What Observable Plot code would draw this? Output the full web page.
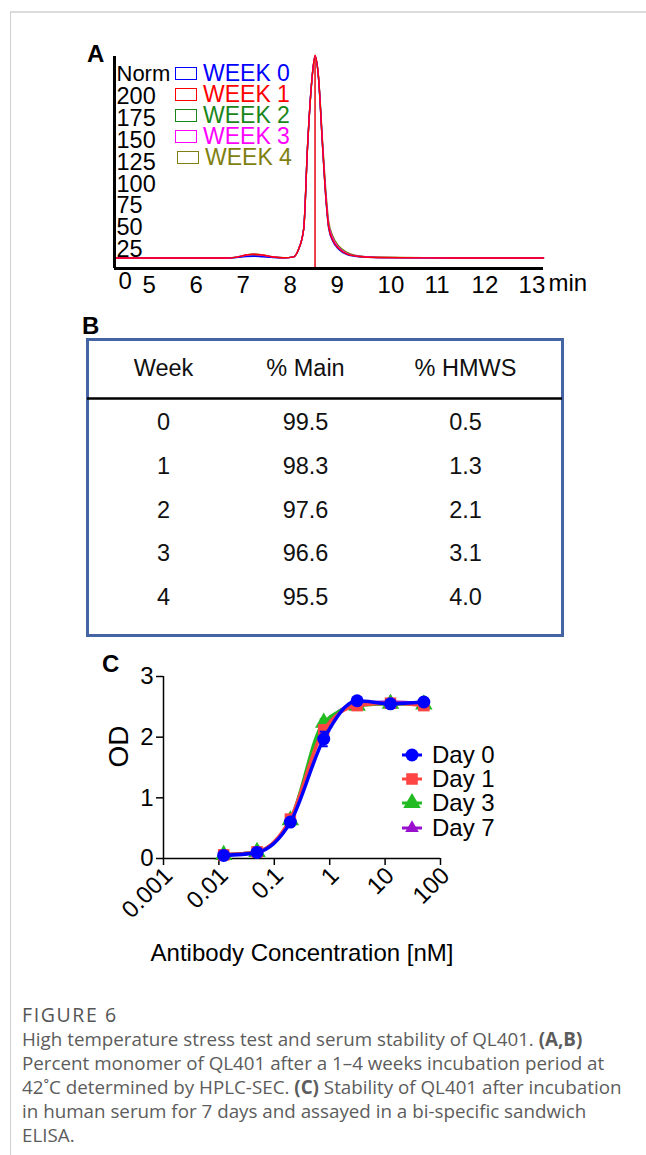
<!DOCTYPE html>
<html><head><meta charset="utf-8">
<script src="https://cdn.jsdelivr.net/npm/d3@7"></script>
<script src="https://cdn.jsdelivr.net/npm/@observablehq/plot@0.6"></script>
<style>
body{margin:0;background:#fff;width:646px;height:1155px;position:relative;overflow:hidden;font-family:"Liberation Sans",Arial,sans-serif;}
.abs{position:absolute;}
#borderTop{left:10px;top:11px;width:636px;height:0;border-top:2px solid #dcdcdc;}
#borderLeft{left:10px;top:12px;width:0;height:1143px;border-left:1px solid #cfcfcf;}
.plabel{font-weight:bold;font-size:24px;color:#000;}
.legA{left:175px;font-size:23px;line-height:22px;display:flex;align-items:center;}
.legA span.box{display:inline-block;width:20px;height:11px;margin-right:6px;}
.legC{left:402px;font-size:24px;display:flex;align-items:center;color:#000;}
#caption{left:22px;top:1003px;font-family:"Open Sans",sans-serif;color:#5c5c5c;font-size:18.8px;line-height:24px;white-space:nowrap;}
#caption .fig{font-size:19.5px;letter-spacing:1.6px;color:#555;margin-bottom:0px;}
</style></head><body>
<div id="borderTop" class="abs"></div>
<div id="borderLeft" class="abs"></div>
<div id="pA" class="abs" style="left:0;top:0"></div>
<div id="pB" class="abs" style="left:0;top:300px"></div>
<div id="pC" class="abs" style="left:0;top:645px"></div>
<div class="abs plabel" style="left:87px;top:40px">A</div>
<div class="abs plabel" style="left:82px;top:312px">B</div>
<div class="abs plabel" style="left:102px;top:650px">C</div>
<div id="legendA"></div>
<div id="legendC"></div>
<div id="caption" class="abs">
<div class="fig">FIGURE 6</div>
<div>High temperature stress test and serum stability of QL401. <b>(A,B)</b><br>Percent monomer of QL401 after a 1–4 weeks incubation period at<br>42˚C determined by HPLC-SEC. <b>(C)</b> Stability of QL401 after incubation<br>in human serum for 7 days and assayed in a bi-specific sandwich<br>ELISA.</div>
</div>
<script>
// ---------- Panel A: SEC chromatograms ----------
const weekNames = ["WEEK 0","WEEK 1","WEEK 2","WEEK 3","WEEK 4"];
const weekColors = ["#0000ff","#ff0000","#1a861a","#ff00ff","#7f7f10"];
const secTime = [4.4, 6.8, 7.0, 7.2, 7.36, 7.55, 7.75, 8.0, 8.2, 8.32, 8.43, 8.51, 8.6, 8.67, 8.74, 8.83, 8.9, 8.96, 9.05, 9.17, 9.35, 9.6, 10.0, 11.0, 12.0, 13.53];
const week0 = [12, 12, 12.5, 13.6, 14.0, 13.4, 12.7, 12.2, 13, 22, 46, 139, 215, 243, 220, 139, 80, 46, 31, 22, 16, 13.5, 12.5, 12.2, 12, 12];
const week1 = [12, 12, 13.0, 15.4, 16.4, 15.4, 13.5, 12.3, 13, 22, 46, 139, 214, 244, 221, 140, 81, 47, 32, 23, 16.5, 13.8, 12.6, 12.2, 12, 12];
const week2 = [12, 12, 12.8, 14.6, 15.2, 14.5, 13.1, 12.3, 13, 22, 46, 139, 214, 243, 221, 141, 83, 49, 33, 24, 17, 14.0, 12.6, 12.2, 12, 12];
const week3 = [12, 12, 13.0, 15.2, 16.0, 15.2, 13.4, 12.3, 13, 22, 46, 139, 214, 243, 221, 142, 84, 50, 34, 24, 17, 14.0, 12.6, 12.2, 12, 12];
const week4 = [12, 12, 13.0, 15.6, 16.6, 15.6, 13.6, 12.4, 13, 22, 46, 138, 213, 242, 222, 146, 89, 54, 37, 26, 18.5, 14.5, 12.8, 12.3, 12, 12];
const peakTime = 8.67;
const secYTicks = [25, 50, 75, 100, 125, 150, 175, 200];
const secXTicks = [5, 6, 7, 8, 9, 10, 11, 12, 13];

const weekSeries = [week0, week1, week2, week3, week4];
const secRows = [];
weekSeries.forEach((vals, w) => vals.forEach((v, i) => secRows.push({week: weekNames[w], t: secTime[i], v})));
const drawOrder = ["WEEK 4","WEEK 2","WEEK 0","WEEK 3","WEEK 1"];

const plotA = Plot.plot({
  width: 646, height: 300,
  marginLeft: 114, marginRight: 103, marginTop: 56, marginBottom: 32,
  x: {domain: [4.404, 13.53], axis: null},
  y: {domain: [0, 242.6], axis: null},
  color: {domain: weekNames, range: weekColors},
  style: {fontFamily: "'Liberation Sans', Arial, sans-serif", color: "#000", background: "transparent", overflow: "visible"},
  marks: [
    ...drawOrder.map(w => Plot.line(secRows.filter(d => d.week === w), {x: "t", y: "v", stroke: "week", strokeWidth: 1.4, curve: "monotone-x"})),
    Plot.ruleX([peakTime], {y1: 0, y2: 241, stroke: "#e8141c", strokeWidth: 1.6}),
    Plot.ruleX([4.404], {stroke: "#000", strokeWidth: 3}),
    Plot.ruleY([0], {stroke: "#000", strokeWidth: 3}),
    Plot.text(secYTicks, {y: d => d, text: d => String(d), frameAnchor: "left", textAnchor: "start", lineAnchor: "middle", dx: 2, dy: 3, fontSize: 23.5, fill: "#000"}),
    Plot.text(["Norm"], {frameAnchor: "top-left", textAnchor: "start", lineAnchor: "middle", dx: 2, dy: 17, fontSize: 22, fill: "#000"}),
    Plot.text(secXTicks, {x: d => d, text: d => String(d), frameAnchor: "bottom", textAnchor: "start", lineAnchor: "middle", dy: 17, fontSize: 24, fill: "#000"}),
    Plot.text(["0"], {frameAnchor: "bottom-left", textAnchor: "start", lineAnchor: "middle", dx: 4, dy: 13, fontSize: 24, fill: "#000"}),
    Plot.text(["min"], {frameAnchor: "bottom-right", textAnchor: "start", lineAnchor: "middle", dx: 5, dy: 15, fontSize: 24, fill: "#000"})
  ]
});
document.getElementById("pA").appendChild(plotA);

const legA = document.getElementById("legendA");
const legATops = [62, 83, 104, 125, 146];
weekNames.forEach((n, i) => {
  const d = document.createElement("div");
  d.className = "abs legA";
  d.style.top = legATops[i] + "px";
  if (i === 4) d.style.left = "177px";
  d.style.color = weekColors[i];
  d.innerHTML = `<span class="box" style="border:1.6px solid ${weekColors[i]}"></span>${n}`;
  legA.appendChild(d);
});

// ---------- Panel B: table ----------
const tableCols = ["Week", "% Main", "% HMWS"];
const weeks = [0, 1, 2, 3, 4];
const pctMain = ["99.5", "98.3", "97.6", "96.6", "95.5"];
const pctHMWS = ["0.5", "1.3", "2.1", "3.1", "4.0"];
const tableRows = weeks.map((w, i) => ({week: w, cells: [String(w), pctMain[i], pctHMWS[i]]}));
const colDx = [0, -9, 0];
const FB = 23.5;

const plotB = Plot.plot({
  width: 646, height: 345,
  marginLeft: 87, marginRight: 84, marginTop: 39, marginBottom: 10,
  x: {type: "point", domain: tableCols, range: [163, 465], padding: 0, axis: null},
  y: {domain: [-1.897, 4.869], reverse: true, axis: null},
  style: {fontFamily: "'Liberation Sans', Arial, sans-serif", color: "#111", background: "transparent", overflow: "visible"},
  marks: [
    Plot.frame({stroke: "#4464a4", strokeWidth: 3}),
    Plot.ruleY([-0.55], {stroke: "#000", strokeWidth: 2.5}),
    ...tableCols.map((c, j) => Plot.text([c], {x: d => d, frameAnchor: "top", lineAnchor: "middle", dy: 29, dx: colDx[j], fontSize: FB, fill: "#111"})),
    ...tableCols.map((c, j) => Plot.text(tableRows, {x: () => c, y: "week", text: d => d.cells[j], dx: colDx[j], fontSize: FB, fill: "#111"}))
  ]
});
document.getElementById("pB").appendChild(plotB);

// ---------- Panel C: ELISA ----------
const dayNames = ["Day 0", "Day 1", "Day 3", "Day 7"];
const dayColors = ["#0000ff", "#ff4444", "#22bb22", "#9911cc"];
const daySymbols = ["circle", "square", "triangle", "triangle2"];
const conc = [0.0122, 0.0488, 0.195, 0.781, 3.125, 12.5, 50];
const day0 = [0.05, 0.10, 0.60, 1.97, 2.60, 2.55, 2.58];
const day1 = [0.06, 0.11, 0.65, 2.12, 2.52, 2.56, 2.52];
const day3 = [0.06, 0.11, 0.63, 2.24, 2.52, 2.55, 2.54];
const day7 = [0.06, 0.11, 0.63, 2.15, 2.55, 2.58, 2.55];
const day0Err = [0.01, 0.01, 0.02, 0.12, 0.02, 0.02, 0.02];
const day1Err = [0.01, 0.01, 0.02, 0.08, 0.02, 0.02, 0.02];
const day3Err = [0.01, 0.01, 0.02, 0.06, 0.02, 0.02, 0.02];
const day7Err = [0.01, 0.01, 0.02, 0.05, 0.02, 0.02, 0.02];
const odTicks = [0, 1, 2, 3];
const concTicks = [0.001, 0.01, 0.1, 1, 10, 100];
const FC = 24;

const dayErrs = [day0Err, day1Err, day3Err, day7Err];
const elisa = [];
[day0, day1, day3, day7].forEach((vals, k) => vals.forEach((v, i) => elisa.push({day: dayNames[k], c: conc[i], od: v, e: dayErrs[k][i]})));
const cOrder = ["Day 7", "Day 3", "Day 1", "Day 0"];

const plotC = Plot.plot({
  width: 646, height: 330,
  marginLeft: 163, marginRight: 206, marginTop: 31, marginBottom: 117,
  x: {type: "log", domain: [0.001, 100], axis: null},
  y: {domain: [0, 3], axis: null},
  color: {domain: dayNames, range: dayColors},
  symbol: {domain: dayNames, range: daySymbols},
  style: {fontFamily: "'Liberation Sans', Arial, sans-serif", color: "#000", background: "transparent", overflow: "visible"},
  marks: [
    Plot.axisY({ticks: odTicks, tickSize: 7, tickPadding: 3, tickFormat: d => String(d), label: null, strokeWidth: 1.5, fill: "#000", fontSize: FC}),
    Plot.axisX({ticks: concTicks, tickSize: 7, tickFormat: () => "", label: null, strokeWidth: 1.5}),
    Plot.axisX({ticks: concTicks, tickSize: 0, tickPadding: 13, tickRotate: -45, tickFormat: d => String(d), label: null, fill: "#000", fontSize: FC, dx: 5}),
    Plot.ruleX([0.001], {stroke: "#000", strokeWidth: 1.5}),
    Plot.ruleY([0], {stroke: "#000", strokeWidth: 1.5}),
    Plot.text(["OD"], {frameAnchor: "left", rotate: -90, dx: -44, fontSize: 28, fill: "#000"}),
    Plot.text(["Antibody Concentration [nM]"], {frameAnchor: "bottom", lineAnchor: "middle", dy: 95, fontSize: FC, fill: "#000"}),
    ...cOrder.flatMap(day => {
      const rows = elisa.filter(d => d.day === day);
      return [
        Plot.line(rows, {x: "c", y: "od", stroke: "day", strokeWidth: 3.5, curve: "monotone-x"}),
        Plot.ruleX(rows, {x: "c", y1: d => d.od - d.e, y2: d => d.od + d.e, stroke: "day", strokeWidth: 2}),
        Plot.link(rows, {x1: d => d.c / 1.18, x2: d => d.c * 1.18, y1: d => d.od + d.e, y2: d => d.od + d.e, stroke: "day", strokeWidth: 2}),
        Plot.link(rows, {x1: d => d.c / 1.18, x2: d => d.c * 1.18, y1: d => d.od - d.e, y2: d => d.od - d.e, stroke: "day", strokeWidth: 2}),
        Plot.dot(rows, {x: "c", y: "od", fill: "day", symbol: "day", r: 6.5, stroke: "none"})
      ];
    })
  ]
});
document.getElementById("pC").appendChild(plotC);

const legC = document.getElementById("legendC");
const legCTops = [741, 765, 789, 814];
dayNames.forEach((n, i) => {
  const d = document.createElement("div");
  d.className = "abs legC";
  d.style.top = legCTops[i] + "px";
  const symMap = {circle: d3.symbolCircle, square: d3.symbolSquare, triangle: d3.symbolTriangle, triangle2: d3.symbolTriangle2};
  const path = d3.symbol(symMap[daySymbols[i]], Math.PI * 6.5 * 6.5)();
  d.innerHTML = `<svg width="30" height="28" style="overflow:visible"><line x1="0" x2="20" y1="14" y2="14" stroke="${dayColors[i]}" stroke-width="3"/><path transform="translate(10,14)" d="${path}" fill="${dayColors[i]}"/></svg><span>${n}</span>`;
  legC.appendChild(d);
});
</script>
</body></html>
